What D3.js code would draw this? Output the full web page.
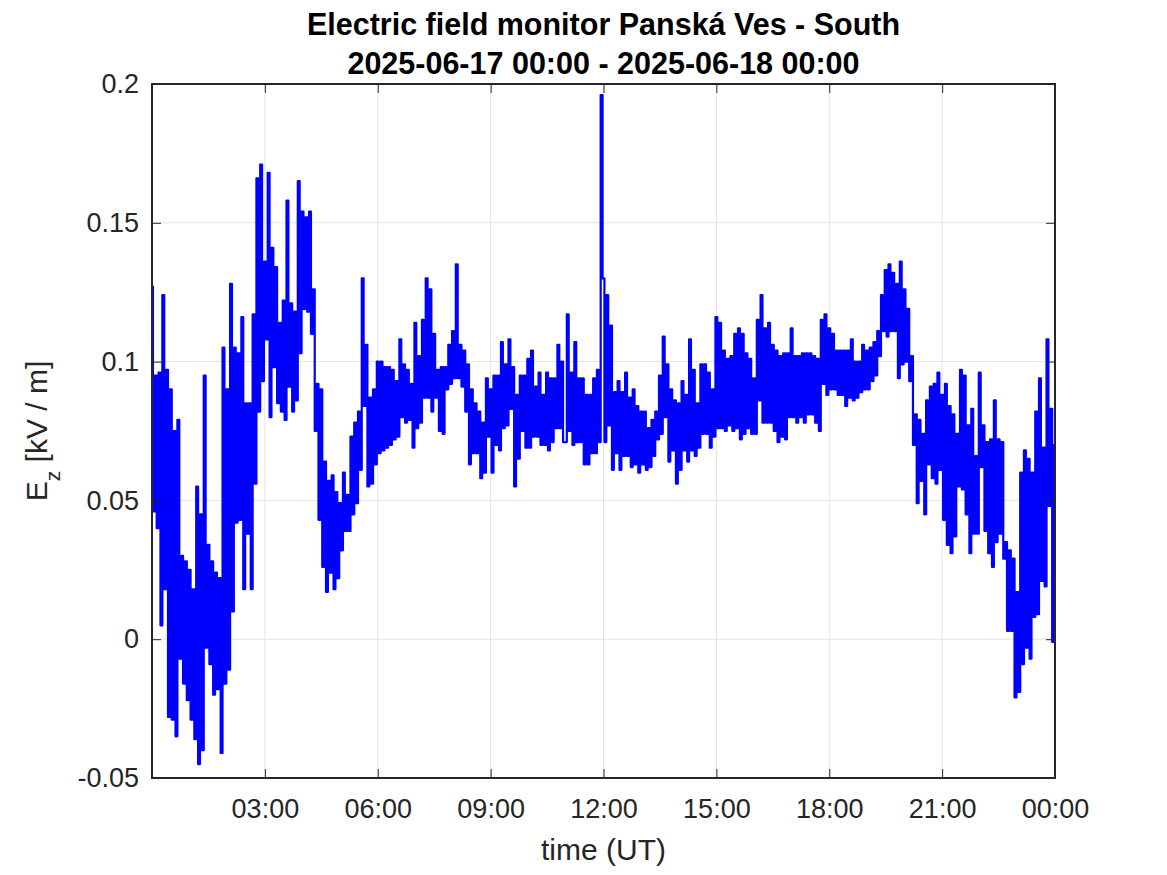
<!DOCTYPE html>
<html>
<head>
<meta charset="utf-8">
<script src="https://cdn.jsdelivr.net/npm/d3@7"></script>
<style>
  html, body { margin: 0; padding: 0; background: #fff; }
  svg { display: block; font-family: "Liberation Sans", Arial, Helvetica, sans-serif; }
</style>
</head>
<body>
<svg id="chart" width="1167" height="875"></svg>
<script>
// ---------------- DATA ----------------
const titleLines = ["Electric field monitor Panská Ves - South", "2025-06-17 00:00 - 2025-06-18 00:00"];
const startTime = "2025-06-17T00:00:00Z";
const endTime = "2025-06-18T00:00:00Z";
const stepMinutes = 3;
// Ez [kV/m], one value every 3 minutes from 00:00 to 24:00 (20 per hour)
const ezValues = [
  // 00h
  0.127,0.046,0.095,0.040,0.096,0.005,0.124,0.018,0.097,-0.028,0.090,-0.029,0.075,-0.035,0.079,-0.007,0.030,-0.016,0.028,-0.022,
  // 01h
  0.025,-0.029,0.018,-0.036,0.055,-0.045,0.045,-0.040,0.095,-0.003,0.034,-0.009,0.028,-0.020,0.024,-0.018,0.022,-0.041,0.105,-0.016,
  // 02h
  0.090,-0.011,0.128,0.010,0.105,0.042,0.103,0.043,0.116,0.018,0.085,0.038,0.085,0.018,0.117,0.056,0.166,0.082,0.171,0.093,
  // 03h
  0.136,0.108,0.168,0.080,0.141,0.098,0.134,0.085,0.114,0.082,0.122,0.079,0.158,0.091,0.121,0.082,0.118,0.086,0.165,0.103,
  // 04h
  0.154,0.119,0.152,0.118,0.154,0.110,0.126,0.075,0.092,0.043,0.090,0.026,0.064,0.017,0.057,0.024,0.059,0.018,0.053,0.022,
  // 05h
  0.049,0.032,0.060,0.039,0.052,0.039,0.073,0.045,0.078,0.049,0.082,0.061,0.130,0.084,0.106,0.055,0.087,0.056,0.090,0.063,
  // 06h
  0.100,0.067,0.100,0.068,0.098,0.069,0.098,0.070,0.097,0.072,0.093,0.073,0.108,0.080,0.099,0.078,0.097,0.079,0.092,0.069,
  // 07h
  0.114,0.076,0.102,0.078,0.115,0.087,0.130,0.087,0.126,0.082,0.110,0.087,0.097,0.075,0.098,0.074,0.098,0.090,0.106,0.092,
  // 08h
  0.111,0.094,0.135,0.094,0.106,0.091,0.104,0.082,0.099,0.063,0.090,0.067,0.085,0.067,0.082,0.058,0.078,0.060,0.094,0.073,
  // 09h
  0.090,0.060,0.095,0.070,0.095,0.068,0.107,0.076,0.099,0.077,0.108,0.083,0.098,0.055,0.088,0.065,0.095,0.075,0.095,0.069,
  // 10h
  0.101,0.069,0.104,0.073,0.091,0.073,0.096,0.070,0.088,0.070,0.096,0.068,0.094,0.071,0.094,0.076,0.106,0.076,0.100,0.071,
  // 11h
  0.071,0.117,0.075,0.096,0.070,0.107,0.071,0.094,0.071,0.094,0.063,0.088,0.063,0.088,0.067,0.094,0.067,0.097,0.071,0.196,
  // 12h
  0.130,0.071,0.124,0.077,0.113,0.061,0.089,0.067,0.093,0.061,0.089,0.066,0.096,0.066,0.087,0.062,0.090,0.063,0.084,0.060,
  // 13h
  0.082,0.063,0.082,0.061,0.076,0.062,0.079,0.066,0.082,0.072,0.095,0.074,0.109,0.080,0.099,0.064,0.090,0.068,0.086,0.056,
  // 14h
  0.085,0.061,0.093,0.068,0.088,0.064,0.108,0.068,0.097,0.066,0.085,0.069,0.099,0.074,0.099,0.074,0.096,0.069,0.090,0.073,
  // 15h
  0.116,0.076,0.114,0.076,0.104,0.075,0.101,0.077,0.102,0.075,0.110,0.076,0.112,0.072,0.110,0.074,0.103,0.076,0.101,0.074,
  // 16h
  0.094,0.074,0.115,0.086,0.124,0.078,0.112,0.078,0.114,0.078,0.106,0.075,0.104,0.071,0.102,0.073,0.103,0.072,0.103,0.080,
  // 17h
  0.112,0.080,0.102,0.078,0.102,0.080,0.103,0.078,0.103,0.081,0.103,0.081,0.102,0.078,0.101,0.075,0.115,0.092,0.117,0.088,
  // 18h
  0.112,0.090,0.110,0.090,0.104,0.088,0.104,0.088,0.104,0.084,0.104,0.087,0.108,0.086,0.100,0.087,0.100,0.089,0.106,0.090,
  // 19h
  0.104,0.090,0.105,0.093,0.107,0.095,0.111,0.102,0.124,0.111,0.133,0.109,0.135,0.111,0.132,0.111,0.128,0.094,0.136,0.099,
  // 20h
  0.126,0.100,0.119,0.093,0.102,0.070,0.081,0.049,0.079,0.057,0.074,0.045,0.086,0.063,0.091,0.058,0.092,0.056,0.096,0.061,
  // 21h
  0.088,0.043,0.092,0.034,0.084,0.031,0.081,0.037,0.074,0.055,0.097,0.054,0.095,0.045,0.077,0.031,0.083,0.038,0.066,0.038,
  // 22h
  0.096,0.062,0.077,0.039,0.071,0.031,0.072,0.026,0.086,0.035,0.072,0.038,0.071,0.029,0.035,0.003,0.032,0.003,0.029,-0.021,
  // 23h
  0.017,-0.019,0.060,-0.009,0.068,-0.003,0.065,-0.007,0.060,0.008,0.082,0.009,0.094,0.021,0.069,0.019,0.108,0.048,0.083,-0.001,
  // 24h
  0.070
];
const xTickHours = [3, 6, 9, 12, 15, 18, 21, 24];
const yTickValues = [-0.05, 0, 0.05, 0.1, 0.15, 0.2];
const yTickLabels = ["-0.05", "0", "0.05", "0.1", "0.15", "0.2"];
const xLabel = "time (UT)";

// ---------------- LAYOUT ----------------
const margin = { left: 152, right: 1055, top: 84, bottom: 778 };
const svg = d3.select("#chart");
const t0 = new Date(startTime), t1 = new Date(endTime);

const x = d3.scaleUtc().domain([t0, t1]).range([margin.left, margin.right]);
const y = d3.scaleLinear().domain([-0.05, 0.2]).range([margin.bottom, margin.top]);

const data = ezValues.map((v, i) => ({ t: new Date(t0.getTime() + i * stepMinutes * 60000), v }));
const xTicks = xTickHours.map(h => new Date(t0.getTime() + h * 3600000));
const fmt = d3.utcFormat("%H:%M");

const axisColor = "#262626";
const gridColor = "#e3e3e3";
const W = margin.right - margin.left, H = margin.bottom - margin.top;

// grid
const grid = svg.append("g");
grid.selectAll(".gx").data(xTicks).join("line")
  .attr("x1", d => x(d)).attr("x2", d => x(d))
  .attr("y1", margin.top).attr("y2", margin.bottom)
  .attr("stroke", gridColor).attr("stroke-width", 1);
grid.selectAll(".gy").data(yTickValues).join("line")
  .attr("x1", margin.left).attr("x2", margin.right)
  .attr("y1", d => y(d)).attr("y2", d => y(d))
  .attr("stroke", gridColor).attr("stroke-width", 1);

// data line (dense record: vertical strokes between successive samples)
svg.append("clipPath").attr("id", "clip").append("rect")
  .attr("x", margin.left).attr("y", margin.top - 2).attr("width", W).attr("height", H + 4);
svg.append("path")
  .datum(data)
  .attr("clip-path", "url(#clip)")
  .attr("fill", "none")
  .attr("stroke", "#0000ff")
  .attr("stroke-width", 2.2)
  .attr("stroke-linejoin", "round")
  .attr("d", d3.line().curve(d3.curveStep).x(d => x(d.t)).y(d => y(d.v)));

// axes (inward ticks) using d3 axes
const tickLen = 9;
const fontSize = 27;
const xAxisB = d3.axisBottom(x).tickValues(xTicks).tickFormat(fmt).tickSizeInner(-tickLen).tickSizeOuter(0).tickPadding(0);
const xAxisT = d3.axisTop(x).tickValues(xTicks).tickFormat("").tickSizeInner(-tickLen).tickSizeOuter(0);
const yAxisL = d3.axisLeft(y).tickValues(yTickValues).tickFormat((d, i) => yTickLabels[i]).tickSizeInner(-tickLen).tickSizeOuter(0).tickPadding(13);
const yAxisR = d3.axisRight(y).tickValues(yTickValues).tickFormat("").tickSizeInner(-tickLen).tickSizeOuter(0);

function styleAxis(g) {
  g.select(".domain").remove();
  g.selectAll("line").attr("stroke", axisColor);
  g.selectAll("text").attr("fill", axisColor).attr("font-size", fontSize)
    .attr("font-family", "'Liberation Sans', Arial, sans-serif");
}
svg.append("g").attr("transform", `translate(0,${margin.bottom})`).call(xAxisB).call(styleAxis)
  .selectAll("text").attr("y", 40).attr("dy", 0);
svg.append("g").attr("transform", `translate(0,${margin.top})`).call(xAxisT).call(styleAxis);
svg.append("g").attr("transform", `translate(${margin.left},0)`).call(yAxisL).call(styleAxis);
svg.append("g").attr("transform", `translate(${margin.right},0)`).call(yAxisR).call(styleAxis);

// box
svg.append("rect").attr("x", margin.left).attr("y", margin.top).attr("width", W).attr("height", H)
  .attr("fill", "none").attr("stroke", axisColor).attr("stroke-width", 1.2).attr("shape-rendering", "crispEdges");

// title
const cx = (margin.left + margin.right) / 2;
svg.append("text").attr("x", cx).attr("y", 35).attr("text-anchor", "middle")
  .attr("font-weight", "bold").attr("font-size", 30.5).attr("fill", "#000").text(titleLines[0]);
svg.append("text").attr("x", cx).attr("y", 74).attr("text-anchor", "middle")
  .attr("font-weight", "bold").attr("font-size", 30.5).attr("fill", "#000").text(titleLines[1]);

// x label
svg.append("text").attr("x", cx).attr("y", 860).attr("text-anchor", "middle")
  .attr("font-size", 30).attr("fill", axisColor).text(xLabel);

// y label with subscript
const yl = svg.append("text").attr("transform", `translate(47,${(margin.top + margin.bottom) / 2}) rotate(-90)`)
  .attr("text-anchor", "middle").attr("font-size", 30).attr("fill", axisColor);
yl.append("tspan").text("E");
yl.append("tspan").attr("font-size", 21).attr("dy", 13).text("z");
yl.append("tspan").attr("dy", -13).text(" [kV / m]");
</script>
</body>
</html>
